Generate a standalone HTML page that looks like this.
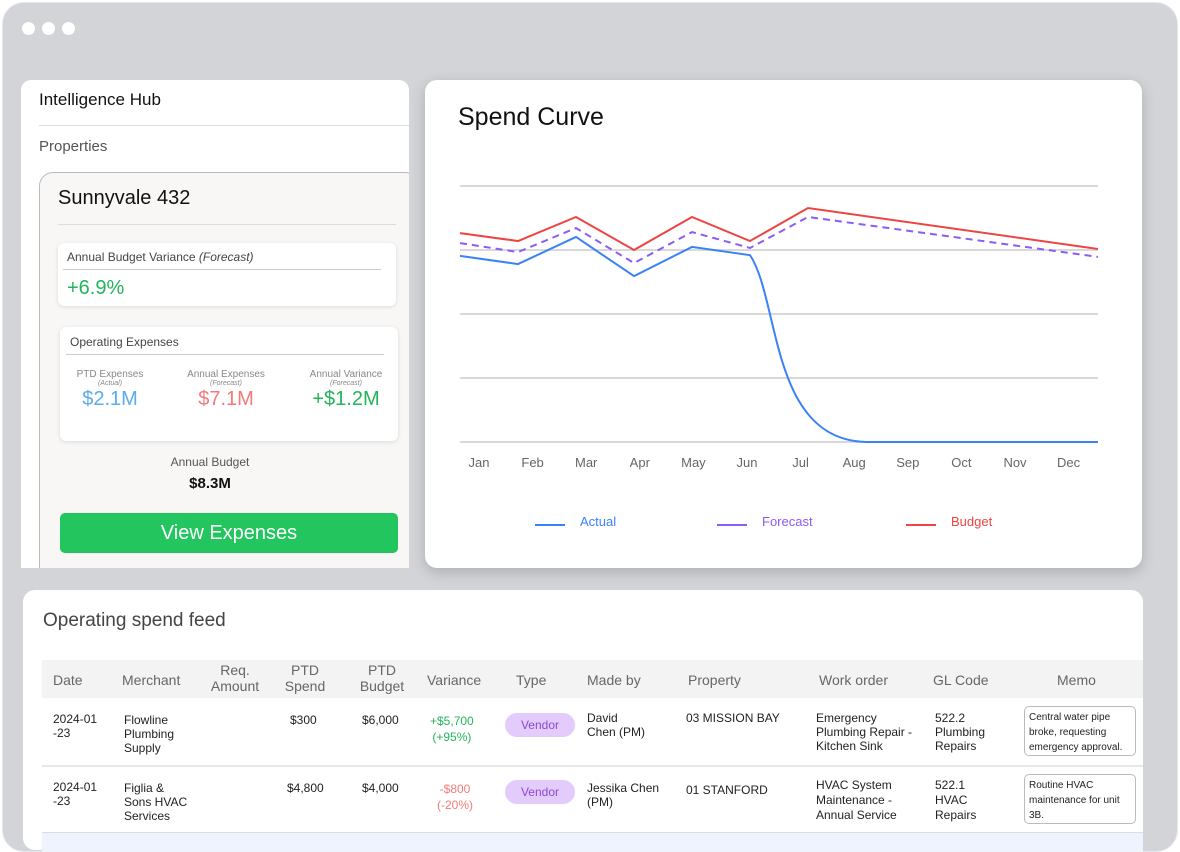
<!DOCTYPE html>
<html><head><meta charset="utf-8"><style>
*{box-sizing:border-box;margin:0;padding:0}
body{width:1180px;height:840px;overflow:hidden;background:#fff;font-family:"Liberation Sans",sans-serif;position:relative}
.a{position:absolute}
#win{left:2px;top:2px;width:1176px;height:850px;background:#d2d4d8;border-radius:22px;border:1px solid #e4e7ee}
.dot{width:13px;height:13px;border-radius:50%;background:#fff;top:22px}
.card{background:#fff;border-radius:12px}
.th{top:662px;font-size:14px;color:#666;line-height:16px}
.td{font-size:12px;color:#222;line-height:14px}
.pill{width:70px;height:24px;border-radius:12px;background:#e3ccfb;color:#8b49d8;font-size:12px;text-align:center;line-height:24px}
.memo{width:112px;height:50px;border:1px solid #bbb;border-radius:5px;font-size:10px;line-height:15px;padding:3px 4px;color:#222}
</style></head><body>
<div id="win" class="a"></div>
<div class="a dot" style="left:22px"></div>
<div class="a dot" style="left:42px"></div>
<div class="a dot" style="left:62px"></div>

<div class="a" style="left:21px;top:80px;width:388px;height:488px;background:#fff;border-radius:10px 10px 0 0;overflow:hidden">
 <div class="a" style="left:18px;top:10px;font-size:17px;color:#111">Intelligence Hub</div>
 <div class="a" style="left:18px;top:45px;width:370px;height:1px;background:#ddd"></div>
 <div class="a" style="left:18px;top:58px;font-size:15px;color:#555">Properties</div>
 <div class="a" style="left:18px;top:92px;width:380px;height:410px;background:#f8f7f6;border:1px solid #bbb;border-radius:14px">
  <div class="a" style="left:18px;top:14px;font-size:20px;color:#111">Sunnyvale 432</div>
  <div class="a" style="left:18px;top:51px;width:338px;height:1px;background:#ddd"></div>
  <div class="a card" style="left:18px;top:70px;width:338px;height:63px;border-radius:6px;box-shadow:0 1px 4px rgba(0,0,0,.12)">
   <div class="a" style="left:9px;top:7px;font-size:12px;color:#444">Annual Budget Variance <i>(Forecast)</i></div>
   <div class="a" style="left:5px;top:26px;width:318px;height:1px;background:#ccc"></div>
   <div class="a" style="left:9px;top:34px;font-size:20px;color:#22b55a">+6.9%</div>
  </div>
  <div class="a card" style="left:20px;top:154px;width:338px;height:114px;border-radius:6px;box-shadow:0 1px 4px rgba(0,0,0,.12)">
   <div class="a" style="left:10px;top:8px;font-size:12px;color:#444">Operating Expenses</div>
   <div class="a" style="left:6px;top:27px;width:318px;height:1px;background:#ccc"></div>
   <div class="a" style="left:0;top:42px;width:100px;text-align:center;font-size:10px;color:#888">PTD Expenses<div style="font-size:7px;font-style:italic">(Actual)</div><div style="font-size:20px;color:#5aacf0;margin-top:1px">$2.1M</div></div>
   <div class="a" style="left:116px;top:42px;width:100px;text-align:center;font-size:10px;color:#888">Annual Expenses<div style="font-size:7px;font-style:italic">(Forecast)</div><div style="font-size:20px;color:#f47a7a;margin-top:1px">$7.1M</div></div>
   <div class="a" style="left:236px;top:42px;width:100px;text-align:center;font-size:10px;color:#888">Annual Variance<div style="font-size:7px;font-style:italic">(Forecast)</div><div style="font-size:20px;color:#22b55a;margin-top:1px">+$1.2M</div></div>
  </div>
  <div class="a" style="left:0;top:282px;width:340px;text-align:center;font-size:12px;color:#555">Annual Budget</div>
  <div class="a" style="left:0;top:302px;width:340px;text-align:center;font-size:15px;font-weight:bold;color:#111">$8.3M</div>
  <div class="a" style="left:20px;top:340px;width:338px;height:40px;background:#22c55e;border-radius:5px;color:#fff;font-size:20px;text-align:center;line-height:40px">View Expenses</div>
 </div>
</div>

<div class="a card" style="left:425px;top:80px;width:717px;height:488px;box-shadow:0 4px 14px rgba(0,0,0,.18)">
 <div class="a" style="left:33px;top:23px;font-size:25px;color:#111">Spend Curve</div>
</div>
<svg class="a" style="left:0;top:0" width="1180" height="590" id="chart"></svg>

<div class="a card" style="left:23px;top:590px;width:1120px;height:260px">
 <div class="a" style="left:20px;top:20px;font-size:19px;color:#444">Operating spend feed</div>
 <div class="a" style="left:19px;top:70px;width:1101px;height:38px;background:#f3f3f3"></div>
 <div class="a" style="left:19px;top:175px;width:1101px;height:2px;background:#e8e8e8"></div>
 <div class="a" style="left:19px;top:242px;width:1101px;height:20px;background:#eef3fd;border-top:1px solid #ddd"></div>
</div>
<div class="a th" style="left:53px;top:672px">Date</div>
<div class="a th" style="left:122px;top:672px">Merchant</div>
<div class="a th" style="left:200px;width:70px;text-align:center">Req.<br>Amount</div>
<div class="a th" style="left:275px;width:60px;text-align:center">PTD<br>Spend</div>
<div class="a th" style="left:352px;width:60px;text-align:center">PTD<br>Budget</div>
<div class="a th" style="left:427px;top:672px">Variance</div>
<div class="a th" style="left:516px;top:672px">Type</div>
<div class="a th" style="left:587px;top:672px">Made by</div>
<div class="a th" style="left:688px;top:672px">Property</div>
<div class="a th" style="left:819px;top:672px">Work order</div>
<div class="a th" style="left:933px;top:672px">GL Code</div>
<div class="a th" style="left:1057px;top:672px">Memo</div>

<div class="a td" style="left:53px;top:712px">2024-01<br>-23</div>
<div class="a td" style="left:124px;top:713px">Flowline<br>Plumbing<br>Supply</div>
<div class="a td" style="left:290px;top:713px">$300</div>
<div class="a td" style="left:362px;top:713px">$6,000</div>
<div class="a td" style="left:430px;top:713px;color:#22b55a;text-align:center;line-height:16px">+$5,700<br>(+95%)</div>
<div class="a pill" style="left:505px;top:713px">Vendor</div>
<div class="a td" style="left:587px;top:711px">David<br>Chen (PM)</div>
<div class="a td" style="left:686px;top:711px">03 MISSION BAY</div>
<div class="a td" style="left:816px;top:711px">Emergency<br>Plumbing Repair -<br>Kitchen Sink</div>
<div class="a td" style="left:935px;top:711px">522.2<br>Plumbing<br>Repairs</div>
<div class="a memo" style="left:1024px;top:706px">Central water pipe broke, requesting emergency approval.</div>

<div class="a td" style="left:53px;top:780px">2024-01<br>-23</div>
<div class="a td" style="left:124px;top:781px">Figlia &amp;<br>Sons HVAC<br>Services</div>
<div class="a td" style="left:287px;top:781px">$4,800</div>
<div class="a td" style="left:362px;top:781px">$4,000</div>
<div class="a td" style="left:437px;top:781px;color:#f47a7a;text-align:center;line-height:16px">-$800<br>(-20%)</div>
<div class="a pill" style="left:505px;top:780px">Vendor</div>
<div class="a td" style="left:587px;top:781px">Jessika Chen<br>(PM)</div>
<div class="a td" style="left:686px;top:783px">01 STANFORD</div>
<div class="a td" style="left:816px;top:778px;line-height:15px">HVAC System<br>Maintenance -<br>Annual Service</div>
<div class="a td" style="left:935px;top:778px;line-height:15px">522.1<br>HVAC<br>Repairs</div>
<div class="a memo" style="left:1024px;top:774px">Routine HVAC maintenance for unit 3B.</div>

<script>
const months=["Jan","Feb","Mar","Apr","May","Jun","Jul","Aug","Sep","Oct","Nov","Dec"];
const gridTicks=[0,25,50,75,100];
const budgetIdx=[0,1,2,3,4,5,6,11];
const budgetVals=[81.6,78.5,87.9,75,87.9,78.5,91.4,75.4];
const forecastIdx=[0,1,2,3,4,5,6,11];
const forecastVals=[77.7,74.2,83.6,69.9,82,75.8,87.9,72.3];
const actualIdx=[0,1,2,3,4,5];
const actualVals=[72.7,69.5,80.1,64.8,76.2,73];
const actualEndIdx=7, actualEndVal=0;
const legendNames=["Actual","Forecast","Budget"];
const legendColors=["#3b82f6","#8b5cf6","#ef4444"];

const X0=460,X1=1098,Y0=442,Y1=186;
const x=i=>X0+(X1-X0)*i/11;
const y=v=>Y0-(Y0-Y1)*v/100;
const NS="http://www.w3.org/2000/svg";
const svg=document.getElementById('chart');
function mk(t,a){const e=document.createElementNS(NS,t);for(const k in a)e.setAttribute(k,a[k]);svg.appendChild(e);return e;}
gridTicks.forEach(v=>{const g=mk('line',{x1:X0,x2:X1,y1:y(v),y2:y(v),stroke:'#d9d9d9','stroke-width':2});

});
months.forEach((m,i)=>{const t=mk('text',{x:479+i*53.6,y:467,'text-anchor':'middle','font-size':13,fill:'#666','font-family':'Liberation Sans, sans-serif'});t.textContent=m;

});
function poly(idx,vals){return idx.map((i,k)=>(k?'L':'M')+x(i)+','+y(vals[k])).join(' ');}
const b=mk('path',{d:poly(budgetIdx,budgetVals),fill:'none',stroke:'#ef4444','stroke-width':2});


const f=mk('path',{d:poly(forecastIdx,forecastVals),fill:'none',stroke:'#8b5cf6','stroke-width':2,'stroke-dasharray':'7,5'});


const lx=x(actualIdx[actualIdx.length-1]),ly=y(actualVals[actualVals.length-1]),ex=x(actualEndIdx),ey=y(actualEndVal);
let d=poly(actualIdx,actualVals)+` C${lx+30},${ly+45} ${lx+20},${ey-2} ${ex},${ey} L${x(11)},${y(actualEndVal)}`;
const a=mk('path',{d:d,fill:'none',stroke:'#3b82f6','stroke-width':2});


[535,717,906].forEach((lxp,i)=>{
 const l=mk('line',{x1:lxp,x2:lxp+30,y1:525,y2:525,stroke:legendColors[i],'stroke-width':2});
 
 
 const t=mk('text',{x:lxp+45,y:526,'font-size':13,fill:legendColors[i],'font-family':'Liberation Sans, sans-serif'});t.textContent=legendNames[i];
 
 
});
</script>
</body></html>
